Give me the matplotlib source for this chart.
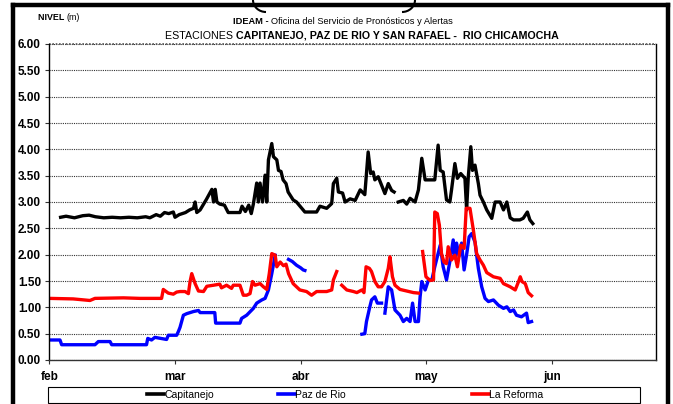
import numpy as np
import matplotlib
matplotlib.use("Agg")
import matplotlib.pyplot as plt
from matplotlib.lines import Line2D
from matplotlib.patches import Rectangle, Arc

nan = np.nan

## Data (days counted from 1 feb, level in m)
cap_d = [2.7, 4, 6, 8, 9.5, 11, 13, 15, 17, 19, 21, 23, 24, 25.5, 26.5, 27.5, 28.5, 29.6, 30.0, 31, 32.5, 33.5,
         34.4, 34.8, 35.2, 36.0, 37.5, 38.8, 39.2, 39.6, 40.0, 40.7, 41.8, 42.7, 44, 45.5, 46.0, 46.8, 47.6, 48.2,
         48.7, 49.5, 49.9, 50.3, 50.9, 51.5, 51.9, 52.3, 53.1, 53.5, 54.3, 54.7, 55.3, 55.8, 56.5, 57.0, 58.2,
         59.0, 61.0, 63.8, 64.6, 66.2, 67.4, 67.8, 68.6, 69.0, 70.0, 70.6, 71.8, 73.0, 74.2, 75.3, 76.1, 76.7,
         77.3, 77.7, 78.5, 79.3, 80.1, 80.9, 81.7, 82.3, 82.8, 83.3, 84.5, 85.3, 86.1, 87.3, 88.1, 88.9, 89.7,
         90.9, 92.0, 92.8, 93.3, 94.0, 94.8, 95.6, 96.0, 96.8, 97.4, 98.2, 99.2, 99.6, 100.0, 100.6, 101.0,
         101.6, 102.4, 102.8, 103.6, 104.4, 105.6, 106.4, 107.6, 108.4, 109.2, 110.0, 110.8, 112.3, 113.1,
         114.1, 114.7, 115.4]
cap_v = [2.71, 2.73, 2.70, 2.74, 2.75, 2.72, 2.70, 2.71, 2.70, 2.71, 2.70, 2.72, 2.70, 2.76, 2.73, 2.80, 2.78,
         2.81, 2.71, 2.76, 2.80, 2.85, 2.88, 3.00, 2.80, 2.85, 3.05, 3.24, 3.00, 3.24, 3.00, 2.96, 2.94, 2.80,
         2.80, 2.80, 2.92, 2.82, 2.94, 2.78, 2.96, 3.36, 3.00, 3.36, 3.00, 3.51, 3.00, 3.80, 4.11, 3.86, 3.80,
         3.60, 3.58, 3.42, 3.35, 3.19, 3.04, 3.00, 2.81, 2.81, 2.92, 2.88, 2.97, 3.35, 3.45, 3.19, 3.17, 3.00,
         3.06, 3.03, 3.23, 3.14, 3.95, 3.54, 3.57, 3.42, 3.48, 3.32, 3.16, 3.35, 3.22, 3.19, nan, 3.00, 3.03,
         2.96, 3.07, 3.00, 3.23, 3.83, 3.42, 3.42, 3.42, 4.08, 3.60, 3.57, 3.04, 3.00, 3.23, 3.73, 3.45, 3.54,
         3.45, 2.85, 3.48, 4.05, 3.60, 3.70, 3.35, 3.13, 3.00, 2.85, 2.69, 3.00, 3.00, 2.85, 3.00, 2.70, 2.66,
         2.66, 2.69, 2.81, 2.66, 2.59]

paz_d = [0, 2.55, 2.95, 10.9, 11.7, 14.5, 14.9, 23.2, 23.5, 24.4, 25.2, 28.0, 28.4, 30.4, 30.8, 31.2, 32.0,
         32.8, 34.4, 35.6, 36.0, 39.5, 39.7, 45.5, 45.9, 47.1, 48.7, 49.5, 50.7, 51.5, 52.3, 53.1, 53.9, 55.5,
         57.1, 58.0, 59.0, 60.0, 60.6, 61.0, 68.0, 74.6, 75.3, 75.7, 76.5, 76.9, 77.7, 78.3, 79.3, 79.7, 80.1,
         80.9, 81.7, 82.5, 83.7, 84.5, 85.3, 86.1, 86.7, 87.3, 88.1, 88.5, 88.9, 89.7, 90.5, 91.3, 92.0, 93.3,
         94.0, 94.8, 95.6, 96.4, 96.8, 97.2, 97.8, 98.4, 99.0, 99.6, 100.2, 100.8, 101.6, 102.4, 103.2, 104.0,
         104.8, 106.0, 107.2, 108.4, 109.2, 110.0, 110.8, 111.5, 112.7, 113.9, 114.3, 115.1]
paz_v = [0.38, 0.38, 0.29, 0.29, 0.35, 0.35, 0.29, 0.29, 0.41, 0.38, 0.43, 0.39, 0.47, 0.47, 0.54, 0.62, 0.85,
         0.88, 0.92, 0.94, 0.90, 0.90, 0.70, 0.70, 0.79, 0.85, 0.98, 1.08, 1.14, 1.17, 1.33, 1.64, 1.99, nan,
         1.91, 1.87, 1.80, 1.75, 1.71, 1.70, nan, 0.49, 0.50, 0.73, 1.01, 1.14, 1.20, 1.08, 1.08, nan, 0.89,
         1.39, 1.33, 0.95, 0.85, 0.73, 0.79, 0.73, 1.08, 0.73, 0.73, 1.20, 1.49, 1.33, 1.52, 1.52, 1.77, 2.18,
         1.77, 1.52, 1.87, 2.28, 1.94, 2.22, 1.97, 2.22, 1.71, 2.00, 2.34, 2.40, 2.24, 1.74, 1.39, 1.17, 1.11,
         1.14, 1.04, 0.98, 1.01, 0.92, 0.95, 0.85, 0.82, 0.89, 0.71, 0.73]

ref_d = [0, 5.7, 9.7, 10.9, 17.7, 21.6, 26.8, 27.2, 28.4, 29.6, 30.4, 31.2, 32.4, 33.2, 33.6, 34.0, 34.8, 35.6,
         36.8, 37.6, 39.2, 40.7, 41.1, 42.3, 43.5, 43.9, 45.5, 46.3, 47.1, 47.9, 48.5, 49.1, 50.3, 51.1, 51.9,
         52.5, 53.1, 53.9, 54.3, 55.1, 55.9, 56.5, 57.1, 58.2, 59.8, 61.4, 62.6, 63.8, 66.2, 67.4, 67.8, 68.6,
         69.2, 69.8, 71.0, 72.6, 73.4, 74.6, 75.1, 75.6, 76.4, 76.9, 77.7, 78.5, 79.3, 80.1, 80.9, 81.3, 81.9,
         82.5, 83.7, 85.3, 86.9, 88.1, 88.6, 89.1, 89.9, 90.9, 91.7, 92.0, 92.6, 93.1, 93.6, 94.2, 94.8, 95.2,
         96.0, 96.8, 97.4, 98.2, 99.0, 99.5, 100.4, 101.2, 102.0, 102.8, 103.6, 104.4, 106.0, 107.6, 108.4,
         110.0, 111.2, 112.0, 112.4, 112.8, 113.6, 114.3, 115.1]
ref_v = [1.17, 1.16, 1.13, 1.17, 1.18, 1.17, 1.17, 1.34, 1.27, 1.25, 1.29, 1.30, 1.30, 1.26, 1.49, 1.64, 1.45,
         1.31, 1.30, 1.40, 1.42, 1.44, 1.37, 1.42, 1.36, 1.42, 1.42, 1.23, 1.23, 1.26, 1.49, 1.42, 1.45, 1.39,
         1.34, 1.64, 2.02, 1.99, 1.77, 1.86, 1.79, 1.82, 1.64, 1.45, 1.33, 1.30, 1.23, 1.30, 1.30, 1.33, 1.52,
         1.68, nan, 1.42, 1.33, 1.30, 1.28, 1.33, 1.28, 1.77, 1.74, 1.68, 1.49, 1.39, 1.39, 1.49, 1.74, 1.96,
         1.58, 1.42, 1.34, 1.31, 1.28, 1.27, nan, 2.06, 1.58, 1.51, 1.52, 2.81, 2.78, 2.56, 2.02, 1.86, 1.83,
         2.15, 1.90, 1.99, 1.77, 2.18, 2.12, 2.88, 2.88, 2.47, 2.02, 1.90, 1.80, 1.66, 1.58, 1.55, 1.45, 1.39,
         1.33, 1.49, 1.58, 1.49, 1.45, 1.28, 1.22]

series_names = ['Capitanejo', 'Paz de Rio', 'La Reforma']
series_colors = ['#000000', '#0000ff', '#ff0000']
month_ticks = [0, 30, 60, 90, 120]
month_labels = ['feb', 'mar', 'abr', 'may', 'jun']
y_ticks = np.arange(0, 6.01, 0.5)

narrow = ['Liberation Sans Narrow', 'Liberation Sans', 'DejaVu Sans']
arial = ['Liberation Sans', 'DejaVu Sans']

W, H = 673, 404
fig = plt.figure(figsize=(W / 100, H / 100), dpi=100)
ax = fig.add_axes([49.3 / W, 1 - 360 / H, (656 - 49.3) / W, (360 - 44) / H])

ax.plot(cap_d, cap_v, color=series_colors[0], lw=2.4, solid_joinstyle='round')
ax.plot(paz_d, paz_v, color=series_colors[1], lw=2.4, solid_joinstyle='round')
ax.plot(ref_d, ref_v, color=series_colors[2], lw=2.4, solid_joinstyle='round')

ax.set_xlim(0, 144.8)
ax.set_ylim(0, 6)
ax.set_yticks(y_ticks)
ax.set_yticklabels(['%.2f' % v for v in y_ticks], fontfamily=arial, fontweight='bold', fontsize=8.5)
ax.set_xticks(month_ticks)
ax.set_xticklabels(month_labels, fontfamily=arial, fontweight='bold', fontsize=8.5)
ax.tick_params(axis='both', direction='out', length=3, width=0.8, pad=3, color='#333333')
ax.tick_params(axis='x', pad=5)
ax.grid(axis='y', color='#333333', linestyle=(0, (1, 1)), linewidth=0.8)
ax.spines['top'].set_visible(False)
for s in ['left', 'bottom', 'right']:
    ax.spines[s].set_linewidth(1.0)
ax.spines['bottom'].set_color('#333333')
ax.axhline(6.0, color='#555555', linestyle=(0, (1, 1)), lw=1.2, clip_on=False)

renderer = fig.canvas.get_renderer()


def px(x, y):
    return x / W, 1 - y / H


def mixed(x0, y, parts, target=None, size=8):
    # parts: list of (text, weight); laid out left to right from pixel x0
    texts = []
    for s, wgt in parts:
        texts.append(fig.text(0, 0, s, fontfamily=narrow, fontweight=wgt, fontsize=size, va='baseline'))
    widths = [t.get_window_extent(renderer).width for t in texts]
    if target is not None:
        k = target / sum(widths)
        for t in texts:
            t.set_fontsize(size * k)
        widths = [t.get_window_extent(renderer).width for t in texts]
    x = x0
    for t, w in zip(texts, widths):
        t.set_position(px(x, y))
        x += w


mixed(233, 24, [('IDEAM - ', 'bold'), ('Oficina del Servicio de Pronósticos y Alertas', 'normal')], target=220)
mixed(165, 39, [('ESTACIONES ', 'normal'), ('CAPITANEJO, PAZ DE RIO Y SAN RAFAEL -  RIO CHICAMOCHA', 'bold')],
      target=392)
mixed(38, 20, [('NIVEL ', 'bold'), ('(m)', 'normal')], target=42)

# outer frame
fl = dict(color='black', lw=3.2, solid_capstyle='projecting')
fig.add_artist(Line2D([13 / W, 13 / W], [0, 1 - 5 / H], transform=fig.transFigure, **fl))
fig.add_artist(Line2D([13 / W, 668 / W], [1 - 5 / H, 1 - 5 / H], transform=fig.transFigure, **fl))
fig.add_artist(Line2D([668 / W, 668 / W], [0, 1 - 5 / H], transform=fig.transFigure, **fl))
fig.add_artist(Arc(px(266, 0), 26 / W, 24 / H, theta1=180, theta2=270, transform=fig.transFigure,
                   color='black', lw=1.5))
fig.add_artist(Arc(px(402, 0), 26 / W, 24 / H, theta1=270, theta2=360, transform=fig.transFigure,
                   color='black', lw=1.5))

# legend box and entries
fig.add_artist(Rectangle(px(48, 403), 592 / W, 16 / H, transform=fig.transFigure, fill=False,
                         edgecolor='black', lw=0.8))
handle_x = [150, 281, 475]
for name, col, hx in zip(series_names, series_colors, handle_x):
    h = Line2D([], [], color=col, lw=2.6)
    fig.legend([h], [name], loc='center left', bbox_to_anchor=px(hx - 8, 395), frameon=False,
               handlelength=1.6, handletextpad=0.05, borderpad=0,
               prop={'family': narrow, 'size': 7.5})

fig.savefig('out.png', dpi=100)
